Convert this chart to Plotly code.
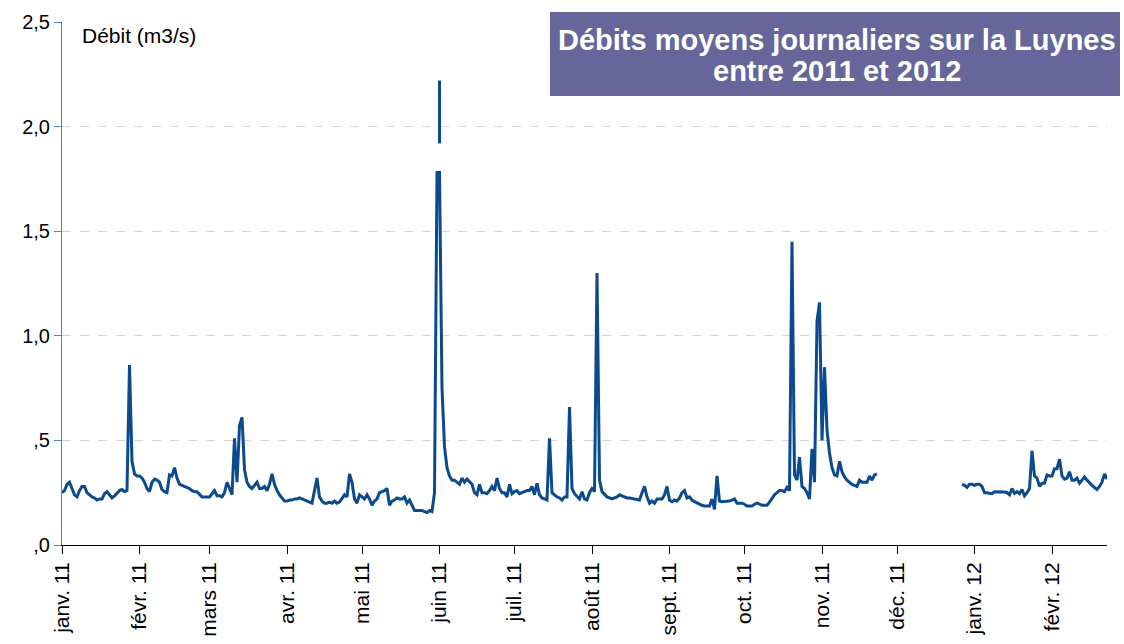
import pandas as pd
import plotly.graph_objects as go

# Débits moyens journaliers (m3/s), un tableau par mois
janv_11 = [0.25, 0.26, 0.29, 0.30, 0.27, 0.24, 0.23, 0.26, 0.28, 0.28,
           0.25, 0.24, 0.23, 0.225, 0.215, 0.22, 0.22, 0.245, 0.255, 0.24,
           0.225, 0.235, 0.25, 0.26, 0.265, 0.255, 0.26, 0.86, 0.40, 0.34, 0.33]
fevr_11 = [0.33, 0.32, 0.30, 0.27, 0.255, 0.30, 0.315, 0.31, 0.30, 0.265,
           0.255, 0.25, 0.335, 0.33, 0.37, 0.32, 0.29, 0.285, 0.28, 0.275,
           0.27, 0.26, 0.255, 0.255, 0.24, 0.23, 0.23, 0.23]
mars_11 = [0.23, 0.245, 0.26, 0.235, 0.235, 0.23, 0.25, 0.30, 0.27, 0.24,
           0.51, 0.30, 0.57, 0.61, 0.36, 0.30, 0.28, 0.27, 0.285, 0.30,
           0.27, 0.27, 0.28, 0.26, 0.29, 0.34, 0.29, 0.26, 0.24, 0.225, 0.21]
avr_11 = [0.21, 0.215, 0.215, 0.22, 0.22, 0.225, 0.22, 0.215, 0.21, 0.205,
          0.20, 0.26, 0.32, 0.23, 0.21, 0.20, 0.20, 0.205, 0.20, 0.21,
          0.20, 0.205, 0.22, 0.24, 0.23, 0.34, 0.30, 0.22, 0.20, 0.24]
mai_11 = [0.23, 0.22, 0.24, 0.22, 0.19, 0.21, 0.22, 0.25, 0.255, 0.26,
          0.27, 0.19, 0.21, 0.215, 0.225, 0.22, 0.22, 0.23, 0.20, 0.215,
          0.19, 0.165, 0.165, 0.165, 0.165, 0.16, 0.155, 0.165, 0.16, 0.25, 1.78]
juin_11 = [1.78, 0.75, 0.47, 0.37, 0.33, 0.31, 0.31, 0.30, 0.29, 0.32,
           0.30, 0.315, 0.30, 0.29, 0.25, 0.24, 0.29, 0.25, 0.25, 0.245,
           0.26, 0.28, 0.26, 0.32, 0.27, 0.25, 0.25, 0.23, 0.29, 0.245]
juil_11 = [0.255, 0.26, 0.245, 0.25, 0.255, 0.26, 0.26, 0.28, 0.24, 0.295,
           0.24, 0.225, 0.22, 0.215, 0.51, 0.25, 0.24, 0.23, 0.225, 0.215,
           0.23, 0.23, 0.66, 0.27, 0.245, 0.23, 0.22, 0.255, 0.22, 0.215, 0.25]
aout_11 = [0.27, 0.255, 1.30, 0.31, 0.255, 0.24, 0.23, 0.225, 0.22, 0.225,
           0.23, 0.24, 0.235, 0.228, 0.225, 0.225, 0.223, 0.22, 0.22, 0.215,
           0.25, 0.28, 0.23, 0.20, 0.21, 0.20, 0.22, 0.22, 0.22, 0.24, 0.28]
sept_11 = [0.215, 0.207, 0.215, 0.21, 0.225, 0.25, 0.26, 0.225, 0.23, 0.215,
           0.207, 0.20, 0.195, 0.19, 0.186, 0.186, 0.186, 0.22, 0.17, 0.33,
           0.21, 0.207, 0.207, 0.21, 0.21, 0.215, 0.22, 0.20, 0.20, 0.20]
oct_11 = [0.195, 0.186, 0.186, 0.186, 0.195, 0.20, 0.195, 0.19, 0.19, 0.19,
          0.205, 0.225, 0.24, 0.25, 0.26, 0.26, 0.255, 0.275, 0.26, 1.45,
          0.335, 0.31, 0.42, 0.28, 0.27, 0.25, 0.22, 0.46, 0.30, 1.07, 1.16]
nov_11 = [0.50, 0.85, 0.55, 0.44, 0.37, 0.335, 0.33, 0.40, 0.35, 0.325,
          0.31, 0.30, 0.29, 0.285, 0.28, 0.31, 0.30, 0.30, 0.30, 0.33,
          0.31, 0.335, 0.34, None, None, None, None, None, None, None]
dec_11 = [None] * 26 + [0.29, 0.285, 0.275, 0.29, 0.29]
janv_12 = [0.285, 0.29, 0.29, 0.28, 0.25, 0.25, 0.248, 0.245, 0.255, 0.255,
           0.255, 0.255, 0.253, 0.25, 0.24, 0.27, 0.247, 0.255, 0.245, 0.265,
           0.235, 0.25, 0.27, 0.45, 0.33, 0.32, 0.28, 0.295, 0.295, 0.335, 0.33]
fevr_12 = [0.33, 0.365, 0.365, 0.41, 0.33, 0.315, 0.32, 0.35, 0.31, 0.31,
           0.32, 0.295, 0.31, 0.325, 0.31, 0.295, 0.285, 0.275, 0.266, 0.28,
           0.30, 0.34, 0.315]

# Relevés isolés (pointe de crue début juin 2011)
pointe_dates = ["2011-06-01", "2011-06-01"]
pointe_valeurs = [2.22, 1.92]

mois_labels = ["janv. 11", "févr. 11", "mars 11", "avr. 11", "mai 11", "juin 11",
               "juil. 11", "août 11", "sept. 11", "oct. 11", "nov. 11", "déc. 11",
               "janv. 12", "févr. 12"]
mois_dates = pd.date_range("2011-01-01", periods=14, freq="MS")

y_ticks = [0, 0.5, 1.0, 1.5, 2.0, 2.5]
y_labels = [",0", ",5", "1,0", "1,5", "2,0", "2,5"]

valeurs = (janv_11 + fevr_11 + mars_11 + avr_11 + mai_11 + juin_11 + juil_11 +
           aout_11 + sept_11 + oct_11 + nov_11 + dec_11 + janv_12 + fevr_12)
dates = pd.date_range("2011-01-01", periods=len(valeurs), freq="D")

LINE = "#0b4a8c"
FONT = "Liberation Sans, Arial, sans-serif"

fig = go.Figure()
fig.add_trace(go.Scatter(x=dates, y=valeurs, mode="lines",
                         line=dict(color=LINE, width=3), connectgaps=False,
                         showlegend=False))
fig.add_trace(go.Scatter(x=pd.to_datetime(pointe_dates), y=pointe_valeurs, mode="lines",
                         line=dict(color=LINE, width=3), showlegend=False))

W, H = 1124, 644
ml, mr, mt, mb = 62, 17, 22, 99
pw, ph = W - ml - mr, H - mt - mb

def px(x):
    return (x - ml) / pw

def py(y):
    return (H - mb - y) / ph

fig.update_layout(
    width=W, height=H,
    margin=dict(l=ml, r=mr, t=mt, b=mb, autoexpand=False),
    paper_bgcolor="white", plot_bgcolor="white",
    font=dict(family=FONT, size=20, color="#000000"),
    xaxis=dict(type="date", range=["2011-01-01", "2012-02-23"], automargin=False,
               tickvals=mois_dates, ticktext=mois_labels, tickangle=-90,
               ticks="outside", ticklen=8, tickcolor="#000000", tickwidth=1,
               showline=True, linecolor="#000000", linewidth=1,
               showgrid=False, zeroline=False,
               tickfont=dict(family=FONT, size=21, color="#000000")),
    yaxis=dict(range=[0, 2.5], tickvals=y_ticks, ticktext=y_labels, automargin=False,
               showgrid=True, gridcolor="#d4d4d4", griddash="dash", gridwidth=1,
               showline=True, linecolor="#4f81bd", linewidth=1,
               ticks="outside", ticklen=7, tickcolor="#4f81bd",
               zeroline=False,
               tickfont=dict(family=FONT, size=20, color="#000000")),
)

fig.add_annotation(text="Débit (m3/s)", xref="paper", yref="paper",
                   x=px(80), y=py(36), xanchor="left", yanchor="middle",
                   showarrow=False, font=dict(family=FONT, size=21, color="#000000"))

fig.add_shape(type="rect", xref="paper", yref="paper",
              x0=px(550), x1=px(1120), y0=py(96), y1=py(12),
              fillcolor="#66669a", line=dict(width=0), layer="above")
fig.add_annotation(text="<b>Débits moyens journaliers sur la Luynes</b>",
                   xref="paper", yref="paper", x=px(837), y=py(40),
                   xanchor="center", yanchor="middle", showarrow=False,
                   font=dict(family=FONT, size=29, color="white"))
fig.add_annotation(text="<b>entre 2011 et 2012</b>",
                   xref="paper", yref="paper", x=px(837), y=py(71),
                   xanchor="center", yanchor="middle", showarrow=False,
                   font=dict(family=FONT, size=29, color="white"))

fig.write_html("out.html")
